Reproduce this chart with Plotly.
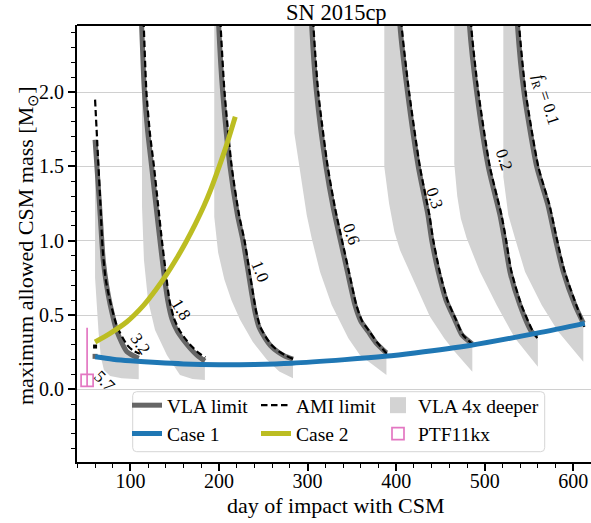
import plotly.graph_objects as go

# ---------------- data ----------------
# Case curves
case1_day = [60, 80, 100, 130, 160, 200, 240, 282, 342, 387, 421, 483, 559, 613]
case1_mass = [0.219, 0.203, 0.192, 0.180, 0.171, 0.166, 0.168, 0.176, 0.200, 0.222, 0.245, 0.295, 0.378, 0.444]
case2_day = [60, 77, 96, 115, 128, 141, 152, 162.5, 173, 183, 191, 199, 208, 218.3]
case2_mass = [0.319, 0.377, 0.455, 0.567, 0.665, 0.775, 0.88, 0.99, 1.11, 1.235, 1.35, 1.48, 1.635, 1.834]

# PTF11kx point
ptf_day = [51]
ptf_mass = [0.06]
ptf_err_plus = [0.355]
ptf_err_minus = [0.04]

# fR = 5.7 (single epoch)
vla57_day = [60]
vla57_mass = [0.222]
ami57_day = [60]
ami57_mass = [0.288]

# fR = 3.2
vla32_day = [60, 63, 65.8, 69.2, 73, 77.2, 84.8, 96, 109.3]
vla32_mass = [1.68, 1.42, 1.17, 0.87, 0.70, 0.567, 0.388, 0.253, 0.209]
ami32_day = [60, 63, 66, 68.5, 72, 77.5, 85, 96, 103, 110.5]
ami32_mass = [1.95, 1.6, 1.25, 0.95, 0.74, 0.58, 0.42, 0.30, 0.26, 0.24]
deep32_day = [60, 62, 64, 66.5, 70, 77, 90, 109.3]
deep32_mass = [0.75, 0.55, 0.38, 0.22, 0.13, 0.09, 0.075, 0.068]

# fR = 1.8
vla18_day = [111, 112.6, 115.6, 119.5, 123.9, 128.5, 133.2, 137.5, 142, 147, 153, 160, 167.5, 175, 184]
vla18_mass = [2.75, 2.447, 2.014, 1.73, 1.498, 1.25, 1.005, 0.79, 0.6, 0.47, 0.39, 0.33, 0.276, 0.23, 0.19]
ami18_day = [113.5, 115, 118, 122, 126.5, 131, 135.5, 140, 144, 149, 155, 162, 169, 177, 184.5]
ami18_mass = [2.75, 2.45, 2.0, 1.72, 1.5, 1.25, 1.0, 0.78, 0.6, 0.48, 0.4, 0.34, 0.29, 0.245, 0.215]
deep18_day = [113, 113, 115.2, 119.8, 127.7, 141.2, 155.9, 170, 184]
deep18_mass = [2.75, 1.23, 0.87, 0.60, 0.40, 0.23, 0.096, 0.07, 0.063]

# fR = 1.0
vla10_day = [198, 199.6, 204.1, 212.4, 220.8, 227, 232.7, 237, 240.6, 245, 251.9, 258, 266.6, 274, 283.5]
vla10_mass = [2.75, 2.447, 2.0, 1.498, 1.173, 1.0, 0.80, 0.64, 0.52, 0.42, 0.345, 0.295, 0.251, 0.225, 0.204]
ami10_day = [200, 201.8, 206.2, 214.3, 222.6, 228.8, 234.2, 238.5, 242, 246.5, 253, 259, 267.5, 275, 283.5]
ami10_mass = [2.75, 2.447, 2.0, 1.498, 1.173, 1.0, 0.80, 0.64, 0.52, 0.42, 0.35, 0.30, 0.255, 0.228, 0.205]
deep10_day = [194.6, 194.6, 199, 206, 214, 223.6, 238, 253.8, 268, 283.5]
deep10_mass = [2.75, 1.16, 0.92, 0.74, 0.6, 0.47, 0.32, 0.2, 0.12, 0.075]

# fR = 0.6
vla06_day = [303, 304.6, 310, 320.8, 329, 337.5, 345, 353.5, 360, 368.5, 377, 389]
vla06_mass = [2.75, 2.447, 2.0, 1.498, 1.22, 0.99, 0.79, 0.567, 0.46, 0.388, 0.315, 0.245]
ami06_day = [305, 306.6, 312, 322.7, 331, 339.3, 346.7, 355, 361.5, 370, 378.5, 389.5]
ami06_mass = [2.75, 2.447, 2.0, 1.498, 1.22, 0.99, 0.79, 0.567, 0.46, 0.388, 0.315, 0.24]
deep06_day = [285, 285, 299, 304.6, 314, 327.2, 346, 359, 389]
deep06_mass = [2.75, 1.723, 1.173, 1.016, 0.791, 0.567, 0.343, 0.231, 0.096]

# fR = 0.3
vla03_day = [402.5, 404.3, 412.8, 425, 435.9, 440.1, 447.6, 456.3, 466.4, 474.3, 486]
vla03_mass = [2.75, 2.447, 2.0, 1.498, 1.173, 1.005, 0.791, 0.601, 0.466, 0.365, 0.305]
ami03_day = [404.3, 406.2, 414.6, 426.8, 437.5, 441.8, 449.2, 457.8, 467.7, 475.5, 487]
ami03_mass = [2.75, 2.447, 2.0, 1.498, 1.173, 1.005, 0.791, 0.601, 0.466, 0.365, 0.30]
deep03_day = [386.6, 386.6, 392, 398, 404.3, 421.2, 438.2, 454, 464.5, 486]
deep03_mass = [2.75, 1.498, 1.25, 1.06, 0.937, 0.713, 0.489, 0.345, 0.264, 0.118]

# fR = 0.2
vla02_day = [481, 482.8, 490.9, 504, 517.2, 522.3, 528.5, 539.8, 553, 560]
vla02_mass = [2.75, 2.447, 2.0, 1.498, 1.173, 1.008, 0.791, 0.567, 0.388, 0.36]
ami02_day = [483, 484.7, 492.8, 505.8, 518.9, 524, 530.2, 541.4, 554.5, 561]
ami02_mass = [2.75, 2.447, 2.0, 1.498, 1.173, 1.008, 0.791, 0.567, 0.388, 0.33]
deep02_day = [465.6, 465.6, 469, 473, 479.6, 494.6, 513.5, 534.2, 560]
deep02_mass = [2.75, 1.52, 1.3, 1.15, 1.016, 0.791, 0.567, 0.343, 0.152]

# fR = 0.1
vla01_day = [535, 537, 544.3, 558.7, 571.4, 579.9, 588.7, 601.9, 611.3]
vla01_mass = [2.75, 2.447, 2.0, 1.498, 1.24, 1.008, 0.791, 0.567, 0.446]
ami01_day = [537, 538.9, 546.2, 560.5, 573.1, 581.6, 590.3, 603.4, 612.5]
ami01_mass = [2.75, 2.447, 2.0, 1.498, 1.24, 1.008, 0.791, 0.567, 0.42]
deep01_day = [521, 521, 526.6, 534.2, 545.5, 564.3, 583.1, 611.3]
deep01_mass = [2.75, 1.431, 1.173, 1.016, 0.791, 0.567, 0.388, 0.186]

# curve labels: text, anchor day, anchor mass, rotation
label_text = ["5.7", "3.2", "1.8", "1.0", "0.6", "0.3", "0.2", "<i>f</i><sub>R</sub> = 0.1"]
label_day = [71.1, 111, 157.4, 246.2, 349.8, 442.9, 522, 568]
label_mass = [0.056, 0.31, 0.54, 0.791, 1.045, 1.29, 1.549, 1.947]
label_angle = [45, 55, 58, 68, 70, 72, 72, 72]

x_ticks = [100, 200, 300, 400, 500, 600]
y_ticks = [0.0, 0.5, 1.0, 1.5, 2.0]

# ---------------- styling ----------------
FONT = "Liberation Serif, Times New Roman, serif"
VLA_COLOR = "#666666"
BAND_COLOR = "#d3d3d3"
BLUE = "#1f77b4"
OLIVE = "#bcbd22"
PINK = "#e377c2"

vla_sets = [
    (vla32_day, vla32_mass, ami32_day, ami32_mass, deep32_day, deep32_mass),
    (vla18_day, vla18_mass, ami18_day, ami18_mass, deep18_day, deep18_mass),
    (vla10_day, vla10_mass, ami10_day, ami10_mass, deep10_day, deep10_mass),
    (vla06_day, vla06_mass, ami06_day, ami06_mass, deep06_day, deep06_mass),
    (vla03_day, vla03_mass, ami03_day, ami03_mass, deep03_day, deep03_mass),
    (vla02_day, vla02_mass, ami02_day, ami02_mass, deep02_day, deep02_mass),
    (vla01_day, vla01_mass, ami01_day, ami01_mass, deep01_day, deep01_mass),
]

fig = go.Figure()

# bands ("VLA 4x deeper")
for vd, vm, ad, am, dd, dm in vla_sets:
    fig.add_trace(go.Scatter(
        x=list(vd) + list(reversed(dd)), y=list(vm) + list(reversed(dm)),
        mode="lines", fill="toself", fillcolor=BAND_COLOR,
        line=dict(width=0, color=BAND_COLOR), showlegend=False, hoverinfo="skip"))

# VLA limit lines
for i, (vd, vm, ad, am, dd, dm) in enumerate(vla_sets):
    fig.add_trace(go.Scatter(
        x=vd, y=vm, mode="lines", line=dict(color=VLA_COLOR, width=5, shape="spline", smoothing=0.6),
        name="VLA limit", legend="legend", legendrank=1, showlegend=(i == 0)))
fig.add_trace(go.Scatter(x=vla57_day, y=vla57_mass, mode="markers",
                         marker=dict(symbol="square", size=5, color=VLA_COLOR), showlegend=False))

# AMI limit lines
for i, (vd, vm, ad, am, dd, dm) in enumerate(vla_sets):
    fig.add_trace(go.Scatter(
        x=ad, y=am, mode="lines",
        line=dict(color="black", width=2.2, dash="6.5px,3.5px", shape="spline", smoothing=0.6),
        name="AMI limit", legend="legend2", legendrank=1, showlegend=(i == 0)))
fig.add_trace(go.Scatter(x=ami57_day, y=ami57_mass, mode="markers",
                         marker=dict(symbol="square", size=4, color="black"), showlegend=False))

# legend swatch for the bands
fig.add_trace(go.Scatter(x=[None], y=[None], mode="markers",
                         marker=dict(symbol="square", size=16, color=BAND_COLOR),
                         name="VLA 4x deeper", legend="legend3", legendrank=1))

# Case curves
fig.add_trace(go.Scatter(x=case1_day, y=case1_mass, mode="lines",
                         line=dict(color=BLUE, width=5, shape="spline", smoothing=0.8),
                         name="Case 1", legend="legend", legendrank=2))
fig.add_trace(go.Scatter(x=case2_day, y=case2_mass, mode="lines",
                         line=dict(color=OLIVE, width=5, shape="spline", smoothing=0.8),
                         name="Case 2", legend="legend2", legendrank=2))

# PTF11kx
fig.add_trace(go.Scatter(
    x=ptf_day, y=ptf_mass, mode="markers",
    marker=dict(symbol="square-open", size=12, color=PINK, line=dict(width=1.7, color=PINK)),
    error_y=dict(type="data", symmetric=False, array=ptf_err_plus, arrayminus=ptf_err_minus,
                 color=PINK, thickness=1.7, width=0),
    name="PTF11kx", legend="legend3", legendrank=2))

# ---------------- annotations ----------------
ann = []
for t, d, m, a in zip(label_text, label_day, label_mass, label_angle):
    ann.append(dict(x=d, y=m, xref="x", yref="y", text=t, textangle=a, showarrow=False,
                    font=dict(family=FONT, size=17, color="black"),
                    xanchor="center", yanchor="middle"))

L, R, T, B = 77, 0, 25, 61
W, H = 591, 523
pw, ph = W - L - R, H - T - B

def px2paper(px, py):
    return (px - L) / pw, (H - B - py) / ph

tx, ty = px2paper(336, 12.5)
ann.append(dict(x=tx, y=ty, xref="paper", yref="paper", text="SN 2015cp", showarrow=False,
                font=dict(family=FONT, size=22.5, color="black"), xanchor="center", yanchor="middle"))
xx, xy = px2paper(336, 505)
ann.append(dict(x=xx, y=xy, xref="paper", yref="paper", text="day of impact with CSM", showarrow=False,
                font=dict(family=FONT, size=22, color="black"), xanchor="center", yanchor="middle"))
yx, yy = px2paper(27, 246)
ann.append(dict(x=yx, y=yy, xref="paper", yref="paper", textangle=-90,
                text="maximum allowed CSM mass [M<sub>⊙</sub>]", showarrow=False,
                font=dict(family=FONT, size=22, color="black"), xanchor="center", yanchor="middle"))

# legend frame (rounded box)
bx0, by0 = px2paper(132.7, 391.7)
bw_, bh_ = 412, 60
r = 4
frame_path = (f"M {r},0 L {bw_ - r},0 Q {bw_},0 {bw_},{-r} L {bw_},{-bh_ + r} "
              f"Q {bw_},{-bh_} {bw_ - r},{-bh_} L {r},{-bh_} Q 0,{-bh_} 0,{-bh_ + r} "
              f"L 0,{-r} Q 0,0 {r},0 Z")
shapes = [
    dict(type="path", xref="paper", yref="paper", xsizemode="pixel", ysizemode="pixel",
         xanchor=bx0, yanchor=by0, path=frame_path,
         line=dict(color="#d6d6d6", width=1), fillcolor="rgba(255,255,255,0.85)", layer="above"),
    dict(type="line", xref="paper", yref="paper", x0=0, x1=1, y0=1, y1=1,
         line=dict(color="black", width=2), layer="above"),
]

legend_top = 386
l1x, l1y = px2paper(127, legend_top)
l2x, _ = px2paper(256, legend_top)
l3x, _ = px2paper(378, legend_top)
legend_common = dict(orientation="v", xanchor="left", yanchor="top", bgcolor="rgba(0,0,0,0)",
                     borderwidth=0, font=dict(family=FONT, size=19.5, color="black"),
                     itemwidth=30, tracegroupgap=0)

fig.update_layout(
    width=W, height=H, margin=dict(l=L, r=R, t=T, b=B),
    paper_bgcolor="white", plot_bgcolor="white",
    font=dict(family=FONT, color="black"),
    showlegend=True,
    legend=dict(x=l1x, y=l1y, **legend_common),
    legend2=dict(x=l2x, y=l1y, **legend_common),
    legend3=dict(x=l3x, y=l1y, **legend_common),
    annotations=ann, shapes=shapes,
    xaxis=dict(range=[39.6, 620], tickvals=x_ticks, ticks="outside", ticklen=7, tickwidth=1.5,
               tickcolor="black", showline=True, linewidth=2, linecolor="black", ticklabelstandoff=-7,
               showgrid=False, zeroline=False, tickfont=dict(family=FONT, size=20, color="black"),
               minor=dict(dtick=20, tick0=0, ticks="outside", ticklen=4, tickwidth=1.2, tickcolor="black", showgrid=False)),
    yaxis=dict(range=[-0.489, 2.452], tickvals=y_ticks, tickformat=".1f", ticks="outside", ticklen=7,
               tickwidth=1.5, tickcolor="black", showline=True, linewidth=2, linecolor="black",
               showgrid=True, gridcolor="#d0d0d0", gridwidth=1, zeroline=False,
               tickfont=dict(family=FONT, size=20, color="black"),
               minor=dict(dtick=0.1, tick0=0, ticks="outside", ticklen=4, tickwidth=1.2, tickcolor="black", showgrid=False)),
)

fig.write_html("out.html")
